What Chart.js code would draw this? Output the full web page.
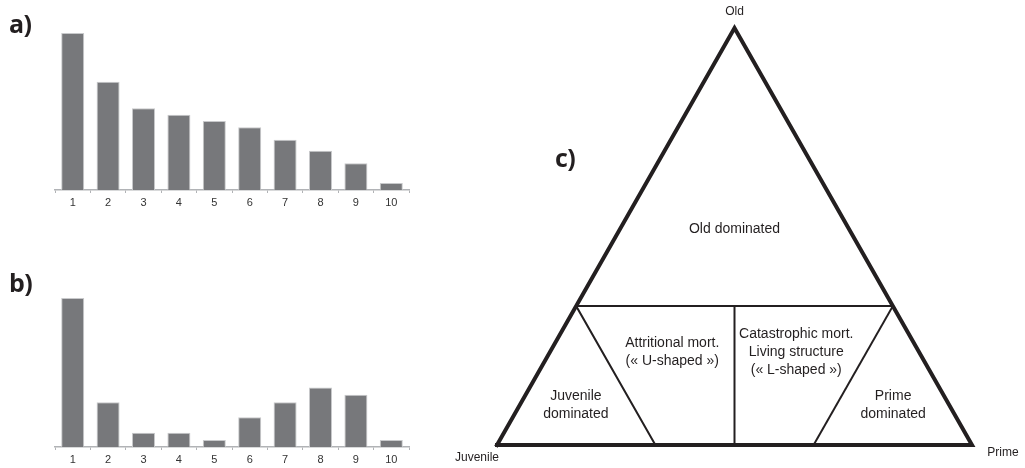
<!DOCTYPE html>
<html>
<head>
<meta charset="utf-8">
<script src="https://cdn.jsdelivr.net/npm/chart.js@4.4.1/dist/chart.umd.min.js"></script>
<style>
  body { margin: 0; background: #fff; width: 1025px; height: 468px; position: relative; overflow: hidden; }
  .box { position: absolute; }
  .panel { position: absolute; font-family: "Open Sans", sans-serif; font-weight: 700; font-size: 25px; color: #231f20; line-height: 1; letter-spacing: -0.5px; }
</style>
</head>
<body>
<div class="box" style="left:0;top:0;width:420px;height:220px"><canvas id="chartA"></canvas></div>
<div class="box" style="left:0;top:260px;width:420px;height:208px"><canvas id="chartB"></canvas></div>
<div class="box" style="left:440px;top:0;width:585px;height:468px"><canvas id="chartC"></canvas></div>
<div class="panel" style="left:9px;top:11px">a)</div>
<div class="panel" style="left:9px;top:270px">b)</div>
<div class="panel" style="left:555px;top:145px">c)</div>
<script>
// age classes
const classes = ["1", "2", "3", "4", "5", "6", "7", "8", "9", "10"];
// relative frequencies (tallest bar = 100)
const profileA = [100, 69, 52, 48, 44, 40, 32, 25, 17, 4.5];
const profileB = [100, 30, 9.5, 9.5, 4.7, 20, 30, 40, 35, 4.7];

// ternary diagram lines, in x/y of the triangle (base 0..1, height 0..1)
const outline = [{x: 0, y: 0}, {x: 1, y: 0}, {x: 0.5, y: 1}, {x: 0, y: 0}];
const thirdLine = [{x: 1 / 6, y: 1 / 3}, {x: 5 / 6, y: 1 / 3}];
const midLine = [{x: 0.5, y: 0}, {x: 0.5, y: 1 / 3}];
const juvLine = [{x: 1 / 6, y: 1 / 3}, {x: 1 / 3, y: 0}];
const primeLine = [{x: 5 / 6, y: 1 / 3}, {x: 2 / 3, y: 0}];

const barColor = "#77787b";
const axisColor = "#b1b3b6";

function barChart(id, values, padTop, padBottom) {
  new Chart(document.getElementById(id), {
    type: "bar",
    data: {
      labels: classes,
      datasets: [{
        data: values,
        backgroundColor: barColor,
        borderColor: "#c8c9cb",
        borderWidth: {top: 1, left: 1, right: 1, bottom: 0},
        barPercentage: 0.65,
        categoryPercentage: 1
      }]
    },
    options: {
      responsive: true,
      maintainAspectRatio: false,
      animation: false,
      layout: { padding: { left: 55, right: 11, top: padTop, bottom: padBottom } },
      plugins: { legend: { display: false }, tooltip: { enabled: false } },
      scales: {
        x: {
          border: { color: axisColor, width: 1.5 },
          grid: { drawOnChartArea: false, drawTicks: true, tickLength: 3, color: axisColor, offset: true },
          ticks: { color: "#333", font: { family: "Liberation Sans", size: 11 }, padding: 3, maxRotation: 0 },
          afterFit: (s) => { s.height = 20; }
        },
        y: { display: false, min: 0, max: 100 }
      }
    }
  });
}

barChart("chartA", profileA, 33, 10);
barChart("chartB", profileB, 38, 1);

// text labels for the ternary plot, placed in the same x/y space
const triLabels = [
  { x: 0.5, y: 1, dy: -16, lines: ["Old"], size: 12 },
  { x: 0, y: 0, dx: -20, dy: 13, lines: ["Juvenile"], size: 12 },
  { x: 1, y: 0, dx: 31, dy: 8, lines: ["Prime"], size: 12 },
  { x: 0.5, y: 0.518, lines: ["Old dominated"], size: 14 },
  { x: 0.369, y: 0.222, lines: ["Attritional mort.", "(« U-shaped »)"], size: 14 },
  { x: 0.63, y: 0.223, lines: ["Catastrophic mort.", "Living structure", "(« L-shaped »)"], size: 14 },
  { x: 0.166, y: 0.095, lines: ["Juvenile", "dominated"], size: 14 },
  { x: 0.834, y: 0.095, lines: ["Prime", "dominated"], size: 14 }
];

const labelPlugin = {
  id: "triLabels",
  afterDatasetsDraw(chart) {
    const ctx = chart.ctx;
    const xs = chart.scales.x, ys = chart.scales.y;
    ctx.save();
    ctx.fillStyle = "#231f20";
    ctx.textAlign = "center";
    ctx.textBaseline = "middle";
    triLabels.forEach((l) => {
      ctx.font = l.size + "px 'Liberation Sans', Arial, sans-serif";
      const lh = l.size * 1.3;
      const cx = xs.getPixelForValue(l.x) + (l.dx || 0);
      const cy = ys.getPixelForValue(l.y) + (l.dy || 0) - (l.lines.length - 1) * lh / 2;
      l.lines.forEach((t, i) => ctx.fillText(t, cx, cy + i * lh));
    });
    ctx.restore();
  }
};

const lineSet = (data, w) => ({
  data: data,
  showLine: true,
  borderColor: "#231f20",
  borderWidth: w,
  pointRadius: 0,
  clip: false,
  borderJoinStyle: "miter",
  borderCapStyle: "square"
});

new Chart(document.getElementById("chartC"), {
  type: "scatter",
  data: {
    datasets: [
      lineSet(outline, 4),
      lineSet(thirdLine, 2),
      lineSet(midLine, 2),
      lineSet(juvLine, 2),
      lineSet(primeLine, 2)
    ]
  },
  options: {
    responsive: true,
    maintainAspectRatio: false,
    animation: false,
    layout: { padding: { left: 57, right: 53, top: 28, bottom: 23 } },
    plugins: { legend: { display: false }, tooltip: { enabled: false } },
    scales: {
      x: { display: false, type: "linear", min: 0, max: 1 },
      y: { display: false, type: "linear", min: 0, max: 1 }
    }
  },
  plugins: [labelPlugin]
});
</script>
</body>
</html>
